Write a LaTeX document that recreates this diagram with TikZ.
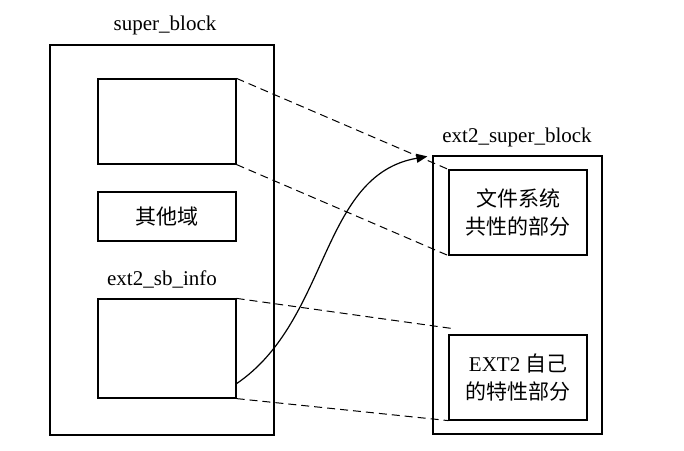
\documentclass[tikz,border=0pt]{standalone}
\usepackage{fontspec}
\setmainfont{Liberation Serif}
\newfontfamily\cjk{Noto Sans CJK SC}
\usepackage{tikz}
\usetikzlibrary{arrows.meta,calc}

\begin{document}
\begin{tikzpicture}[
    x=1pt, y=-1pt,
    outer/.style={
        rectangle, draw=black, line width=1.2pt,
        inner sep=0pt
    },
    field/.style={
        rectangle, draw=black, line width=1.2pt,
        minimum width=138pt, inner sep=0pt,
        align=center, font=\cjk\fontsize{21}{28}\selectfont
    },
    title/.style={
        inner sep=0pt, font=\fontsize{21}{24}\selectfont
    },
    link/.style={dash pattern=on 8pt off 5pt, line width=1pt},
    arrow/.style={-{Triangle[length=11pt,width=9pt]}, line width=1.2pt}
]
\useasboundingbox (0,0) rectangle (684,450);

% Left: super_block
\node[outer, minimum width=224pt, minimum height=390pt] (sb) at (162,240) {};
\node[title] (sbname) at (165,25) {super\_block};

\node[field, minimum height=85pt] (common) at (167,121.5) {};
\node[field, minimum height=49pt] (other) at (167,216.5) {其他域};
\node[title] (infoname) at (162,279) {ext2\_sb\_info};
\node[field, minimum height=99pt] (info) at (167,348.5) {};

% Right: ext2_super_block
\node[outer, minimum width=169pt, minimum height=278pt] (esb) at (517.5,295) {};
\node[title] (esbname) at (517,137) {ext2\_super\_block};

\node[field, minimum height=85pt] (fscommon) at (518,212.5) {文件系统\\共性的部分};
\node[field, minimum height=85pt] (own) at (518,377.5) {{\rmfamily EXT2} 自己\\的特性部分};

% Free ends
\coordinate (owntop) at ($(own.north west)+(3,-6)$);
\coordinate (tip) at ($(esb.north west)+(-5,1)$);

% Dashed links
\draw[link] (common.north east) -- (fscommon.north west);
\draw[link] (common.south east) -- (fscommon.south west);
\draw[link] (info.north east) -- (owntop);
\draw[link] (info.south east) -- (own.south west);

% Pointer
\draw[arrow] ($(info.south east)+(0,-15)$) .. controls (330,320) and (320,175) .. (tip);
\end{tikzpicture}
\end{document}
